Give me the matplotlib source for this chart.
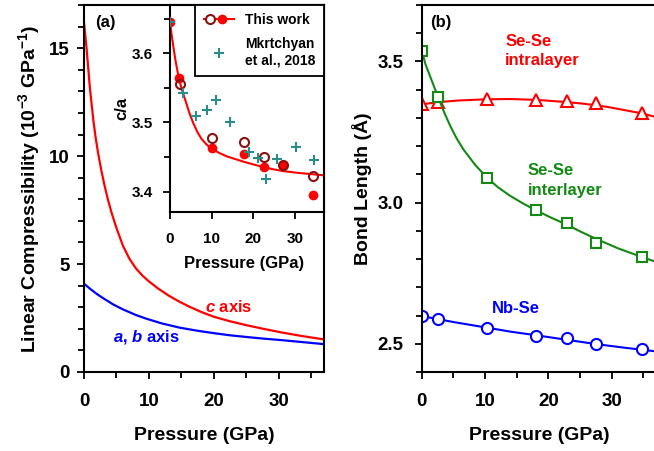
import matplotlib
matplotlib.use('Agg')
import matplotlib.pyplot as plt
from matplotlib.lines import Line2D
from matplotlib.legend_handler import HandlerBase
from matplotlib.ticker import MultipleLocator

plt.rcParams['font.family'] = ['Liberation Sans', 'DejaVu Sans']
plt.rcParams['font.weight'] = 'bold'
plt.rcParams['axes.labelweight'] = 'bold'
plt.rcParams['mathtext.fontset'] = 'custom'
plt.rcParams['mathtext.rm'] = 'Liberation Sans:weight=bold'
plt.rcParams['mathtext.bf'] = 'Liberation Sans:weight=bold'
plt.rcParams['mathtext.it'] = 'Liberation Sans:style=italic:weight=bold'

# (a) linear compressibility curves
p_c = [0, 0.2, 0.4, 0.65, 0.9, 1.2, 1.45, 1.8, 2.2, 2.7, 3.2, 3.7, 4.3, 5.0, 6.0, 7.0, 8.0,
       9.0, 10, 11.5, 13, 14.5, 16, 18, 20, 22.5, 25, 27.5, 30.3, 33.5, 37]
beta_c = [16.2, 15.6, 15.0, 14.1, 13.2, 12.35, 11.65, 10.85, 10.1, 9.3, 8.6, 7.98, 7.33, 6.68,
          5.85, 5.25, 4.8, 4.47, 4.2, 3.85, 3.55, 3.29, 3.06, 2.79, 2.56, 2.35, 2.17, 2.01,
          1.84, 1.67, 1.51]
p_ab = [0, 1, 2, 3, 4.5, 6, 8, 9.7, 12, 14.8, 17.5, 20, 22.5, 25.1, 27.5, 30.3, 33.5, 37]
beta_ab = [4.09, 3.84, 3.61, 3.41, 3.13, 2.9, 2.64, 2.46, 2.25, 2.05, 1.91, 1.8, 1.7, 1.62,
           1.55, 1.48, 1.39, 1.29]

# inset: c/a ratio
p_fill = [0, 2.2, 10.0, 17.8, 22.7, 27.2, 34.4]
ca_fill = [3.6455, 3.565, 3.463, 3.455, 3.435, 3.438, 3.395]
p_open = [2.4, 10.0, 17.8, 22.7, 27.2, 34.4]
ca_open = [3.555, 3.478, 3.471, 3.450, 3.438, 3.423]
p_mk = [0, 3.2, 6.2, 8.8, 11.0, 14.4, 19.0, 21.2, 23.0, 25.6, 30.2, 34.6]
ca_mk = [3.6455, 3.543, 3.509, 3.518, 3.532, 3.500, 3.4575, 3.449, 3.418, 3.4465, 3.465, 3.4455]
p_cafit = [0, 0.4, 0.8, 1.4, 2.2, 3.0, 3.8, 4.7, 5.6, 6.6, 7.6, 8.8, 10, 11.8, 13.6, 15.7,
           17.8, 20.2, 22.7, 25, 27.2, 30.8, 34.4, 37]
ca_fit = [3.6455, 3.627, 3.61, 3.587, 3.562, 3.545, 3.53, 3.513, 3.499, 3.486, 3.476, 3.468,
          3.462, 3.456, 3.451, 3.447, 3.443, 3.439, 3.435, 3.432, 3.4296, 3.427, 3.425, 3.4234]

# (b) bond lengths
p_b = [0, 2.5, 10.3, 18.1, 22.9, 27.5, 34.8]
intra = [3.348, 3.358, 3.366, 3.362, 3.360, 3.352, 3.316]
inter = [3.538, 3.374, 3.087, 2.975, 2.927, 2.856, 2.808]
nbse = [2.597, 2.589, 2.556, 2.527, 2.520, 2.498, 2.480]
p_intra_fit = [0, 2.6, 6, 10.3, 13.9, 18.2, 22.9, 25.3, 27.6, 29.3, 31, 32.9, 34.8, 37]
intra_fit = [3.348, 3.356, 3.362, 3.366, 3.367, 3.364, 3.356, 3.351, 3.3445, 3.339, 3.332,
             3.324, 3.316, 3.303]
p_inter_fit = [0, 0.6, 1.3, 2.0, 2.6, 3.5, 4.5, 5.5, 6.6, 8.5, 10.4, 12, 13.9, 16, 18.1, 20.5,
               22.9, 25.2, 27.5, 31, 34.8, 37]
inter_fit = [3.54, 3.49, 3.449, 3.408, 3.374, 3.322, 3.272, 3.228, 3.188, 3.132, 3.087, 3.055,
             3.025, 2.997, 2.972, 2.946, 2.922, 2.896, 2.872, 2.838, 2.807, 2.79]
p_nbse_fit = [0, 5, 10.3, 14, 18.1, 22.9, 27.5, 32, 37]
nbse_fit = [2.598, 2.577, 2.557, 2.543, 2.530, 2.514, 2.499, 2.486, 2.473]

RED = '#ff0000'
BLUE = '#0000ff'
GREEN = '#138a13'
DARKRED = '#8b1010'
TEAL = '#2b8c8c'


class ThisWorkHandler(HandlerBase):
    # red line with an open and a filled circle on it
    def create_artists(self, legend, orig_handle, xdescent, ydescent, width, height, fontsize, trans):
        y = height / 2 - ydescent
        x0, x1 = -xdescent, width - xdescent
        line = Line2D([x0, x1], [y, y], color=RED, lw=1.5)
        m1 = Line2D([x0 + 0.2 * width], [y], marker='o', ms=6.5, mfc='white', mec=DARKRED, mew=1.5, ls='')
        m2 = Line2D([x0 + 0.6 * width], [y], marker='o', ms=6, mfc=RED, mec=RED, ls='')
        arts = [line, m1, m2]
        for a in arts:
            a.set_transform(trans)
        return arts


def style_axis(ax, size, xpad, ypad):
    for s in ax.spines.values():
        s.set_linewidth(1.5)
    ax.tick_params(which='both', direction='out', width=1.3, labelsize=size)
    ax.tick_params(which='major', length=5)
    ax.tick_params(which='minor', length=4)
    ax.tick_params(axis='x', pad=xpad)
    ax.tick_params(axis='y', pad=ypad)


fig = plt.figure(figsize=(6.54, 4.51), dpi=100)

# panel (a)
ax1 = fig.add_axes([0.1284, 0.1752, 0.3670, 0.8137])
ax1.plot(p_c, beta_c, color=RED, lw=1.6)
ax1.plot(p_ab, beta_ab, color=BLUE, lw=1.6)
ax1.set_xlim(0, 37)
ax1.set_ylim(0, 17)
ax1.xaxis.set_major_locator(MultipleLocator(10))
ax1.xaxis.set_minor_locator(MultipleLocator(5))
ax1.yaxis.set_major_locator(MultipleLocator(5))
ax1.yaxis.set_minor_locator(MultipleLocator(1))
style_axis(ax1, 13.5, 10, 5.5)
ax1.set_xlabel('Pressure (GPa)', fontsize=14)
ax1.set_ylabel('Linear Compressibility (10$^{-3}$ GPa$^{-1}$)', fontsize=14)
ax1.xaxis.set_label_coords(0.5, -0.172)
ax1.xaxis.label.set_va('center')
ax1.yaxis.set_label_coords(-0.229, 0.5)
ax1.yaxis.label.set_va('center')
ax1.text(18.7, 2.99, '$c$ axis', color=RED, fontsize=12, va='center')
ax1.text(4.5, 1.63, '$a$, $b$ axis', color=BLUE, fontsize=12, va='center')
ax1.text(1.7, 16.2, '(a)', fontsize=12, va='center')

# inset c/a
axi = fig.add_axes([0.2599, 0.5293, 0.2355, 0.4597])
axi.plot(p_cafit, ca_fit, color=RED, lw=1.5, zorder=2)
axi.plot(p_fill, ca_fill, 'o', ms=6, color=RED, zorder=3)
axi.plot(p_open, ca_open, 'o', ms=6.5, mfc='none', mec=DARKRED, mew=1.5, zorder=4)
axi.plot(p_mk, ca_mk, '+', ms=7, mew=1.5, color=TEAL, zorder=5)
axi.set_xlim(0, 37)
axi.set_ylim(3.37, 3.67)
axi.xaxis.set_major_locator(MultipleLocator(10))
axi.yaxis.set_major_locator(MultipleLocator(0.1))
axi.yaxis.set_minor_locator(MultipleLocator(0.05))
axi.yaxis.set_major_formatter(plt.FormatStrFormatter('%.1f'))
style_axis(axi, 11, 9, 7)
axi.set_xlabel('Pressure (GPa)', fontsize=12)
axi.set_ylabel('c/a', fontsize=12)
axi.xaxis.set_label_coords(0.48, -0.249)
axi.xaxis.label.set_va('center')
axi.yaxis.set_label_coords(-0.314, 0.5)
axi.yaxis.label.set_va('center')
leg = axi.legend([object(), Line2D([], [], marker='+', ls='', color=TEAL, ms=7, mew=1.5)],
                 ['This work', 'Mkrtchyan\net al., 2018'],
                 handler_map={object: ThisWorkHandler()},
                 loc='upper right', borderaxespad=0, fontsize=10, fancybox=False,
                 framealpha=1, edgecolor='black', handlelength=2.2, borderpad=0.6,
                 labelspacing=0.7, handletextpad=0.8)
leg.get_frame().set_linewidth(1.3)

# panel (b)
ax2 = fig.add_axes([0.6448, 0.1752, 0.3583, 0.8137])
ax2.plot(p_intra_fit, intra_fit, color=RED, lw=1.5)
ax2.plot(p_b, intra, '^', ms=8, mfc='white', mec=RED, mew=1.5)
ax2.plot(p_inter_fit, inter_fit, color=GREEN, lw=1.5)
ax2.plot(p_b, inter, 's', ms=6.5, mfc='white', mec=GREEN, mew=1.5)
ax2.plot(p_nbse_fit, nbse_fit, color=BLUE, lw=1.5)
ax2.plot(p_b, nbse, 'o', ms=8, mfc='white', mec=BLUE, mew=1.5)
ax2.set_xlim(0, 37)
ax2.set_ylim(2.4, 3.7)
ax2.xaxis.set_major_locator(MultipleLocator(10))
ax2.xaxis.set_minor_locator(MultipleLocator(5))
ax2.yaxis.set_major_locator(MultipleLocator(0.5))
ax2.yaxis.set_minor_locator(MultipleLocator(0.1))
ax2.yaxis.set_major_formatter(plt.FormatStrFormatter('%.1f'))
style_axis(ax2, 13.5, 10, 8)
ax2.set_xlabel('Pressure (GPa)', fontsize=14)
ax2.set_ylabel('Bond Length (Å)', fontsize=14)
ax2.xaxis.set_label_coords(0.5, -0.172)
ax2.xaxis.label.set_va('center')
ax2.yaxis.set_label_coords(-0.2527, 0.5)
ax2.yaxis.label.set_va('center')
ax2.text(1.3, 3.639, '(b)', fontsize=12, va='center')
ax2.text(13.2, 3.537, 'Se-Se\nintralayer', color=RED, fontsize=12, va='center', linespacing=1.4)
ax2.text(16.7, 3.077, 'Se-Se\ninterlayer', color=GREEN, fontsize=12, va='center', linespacing=1.4)
ax2.text(11.06, 2.6246, 'Nb-Se', color=BLUE, fontsize=12, va='center')

fig.savefig('out.png', dpi=100)
